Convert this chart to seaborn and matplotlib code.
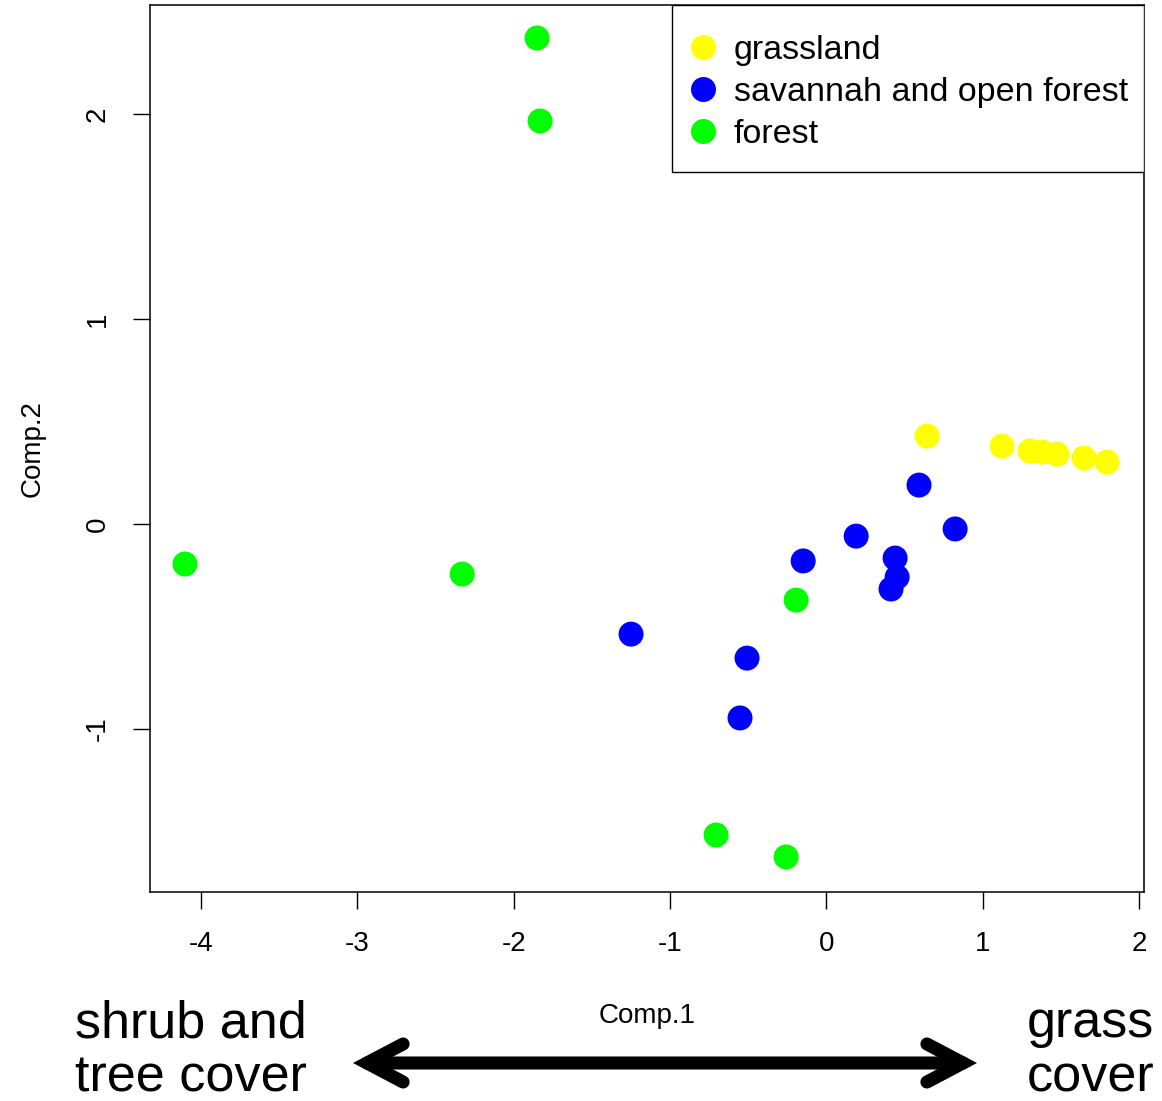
import seaborn as sns
import matplotlib.pyplot as plt
import pandas as pd
from matplotlib.lines import Line2D
from matplotlib.patches import FancyArrowPatch, ArrowStyle, Rectangle

# PCA scores
grass_x = [0.645, 1.124, 1.303, 1.380, 1.476, 1.649, 1.796]
grass_y = [0.429, 0.380, 0.356, 0.351, 0.341, 0.322, 0.302]

sav_x = [-1.249, -0.507, -0.552, -0.148, 0.191, 0.440, 0.453, 0.414, 0.593, 0.824]
sav_y = [-0.537, -0.654, -0.946, -0.180, -0.059, -0.166, -0.259, -0.317, 0.190, -0.024]

forest_x = [-1.850, -1.831, -4.102, -2.329, -0.193, -0.705, -0.257]
forest_y = [2.371, 1.966, -0.195, -0.244, -0.371, -1.517, -1.624]

groups = ["grassland", "savannah and open forest", "forest"]
colors = {"grassland": "#FFFF00", "savannah and open forest": "#0000FF", "forest": "#00FF00"}
x_ticks = [-4, -3, -2, -1, 0, 1, 2]
y_ticks = [-1, 0, 1, 2]

df = pd.DataFrame({
    "Comp.1": grass_x + sav_x + forest_x,
    "Comp.2": grass_y + sav_y + forest_y,
    "veg": [groups[0]] * len(grass_x) + [groups[1]] * len(sav_x) + [groups[2]] * len(forest_x),
})

sns.set_style("white")
plt.rcParams["font.family"] = ["Liberation Sans", "DejaVu Sans"]
plt.rcParams["axes.unicode_minus"] = False
for key in ["text.color", "axes.labelcolor", "xtick.color", "ytick.color"]:
    plt.rcParams[key] = "black"

fig = plt.figure(figsize=(11.62, 11.01), dpi=100)
ax = fig.add_axes([150 / 1162, 1 - 892 / 1101, 994 / 1162, 887 / 1101])

sns.scatterplot(data=df, x="Comp.1", y="Comp.2", hue="veg", hue_order=groups,
                palette=colors, s=324, linewidth=0, legend=False, ax=ax)

ax.set_xlim(-4.326, 2.032)
ax.set_ylim(-1.795, 2.532)
ax.set_xticks(x_ticks)
ax.set_yticks(y_ticks)
ax.tick_params(axis="both", direction="out", length=12, width=1, pad=16,
               labelsize=20, color="black", labelcolor="black", bottom=True, left=True)
ax.tick_params(axis="y", labelrotation=90)
for lbl in ax.get_yticklabels():
    lbl.set_va("center")
for sp in ax.spines.values():
    sp.set_visible(True)
    sp.set_color("black")
    sp.set_linewidth(1.1)

ax.set_xlabel("Comp.1", fontsize=20, color="black")
ax.set_ylabel("Comp.2", fontsize=20, color="black")
ax.xaxis.set_label_coords(0.5, -0.125)
ax.yaxis.set_label_coords(-0.1046, 0.5)

# R-style legend: box flush with the top right corner, entries inside
ax.add_patch(Rectangle((0.5252, 0.8117), 0.4748, 0.1883, transform=ax.transAxes,
                       facecolor="white", edgecolor="black", lw=1.0, zorder=4))
handles = [Line2D([], [], marker="o", ls="", color=colors[g], markersize=18,
                  markeredgewidth=0) for g in groups]
leg = ax.legend(handles, groups, loc="upper left", bbox_to_anchor=(0.5443, 0.9665),
                borderaxespad=0, borderpad=0, fontsize=24.5, frameon=False,
                handlelength=0.7, handletextpad=0.56, labelspacing=0.33)
leg.set_zorder(5)
for t in leg.get_texts():
    t.set_color("black")

# annotation under the x axis
big = 37.5
fig.text(75 / 1162, 1 - 1037 / 1101, "shrub and", fontsize=big, va="baseline", ha="left")
fig.text(75 / 1162, 1 - 1092 / 1101, "tree cover", fontsize=big, va="baseline", ha="left")
fig.text(1027 / 1162, 1 - 1037 / 1101, "grass", fontsize=big, va="baseline", ha="left")
fig.text(1027 / 1162, 1 - 1092 / 1101, "cover", fontsize=big, va="baseline", ha="left")

arrow = FancyArrowPatch((353 / 1162, 1 - 1063 / 1101), (977 / 1162, 1 - 1063 / 1101),
                        transform=fig.transFigure,
                        arrowstyle=ArrowStyle("<->", head_length=26, head_width=13.7),
                        lw=9.4, color="black", capstyle="round", joinstyle="miter",
                        shrinkA=0, shrinkB=0)
fig.add_artist(arrow)

fig.savefig("out.png", dpi=100)
